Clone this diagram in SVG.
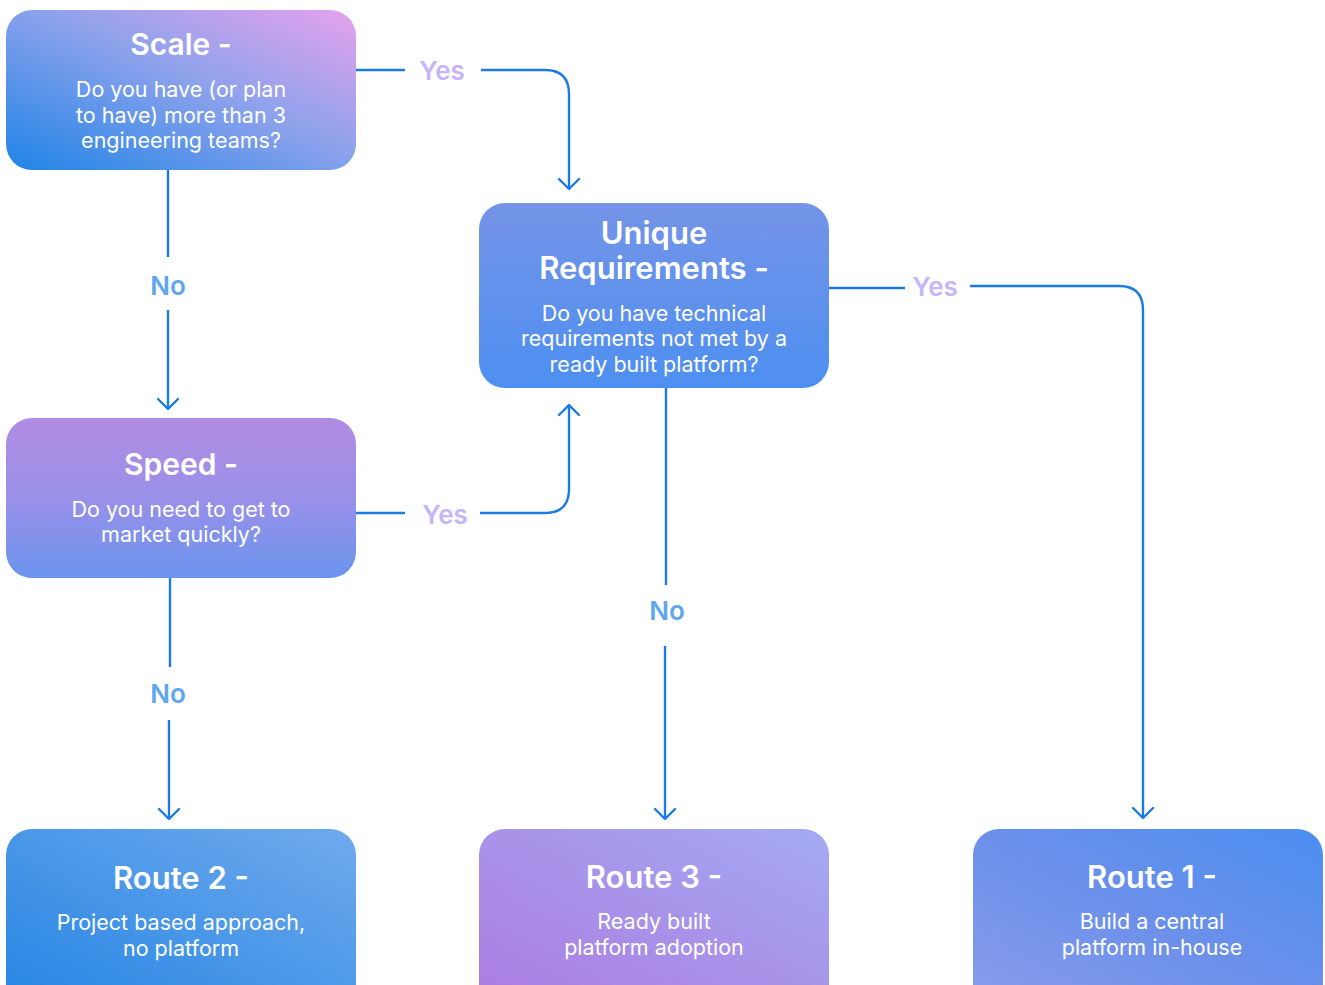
<svg xmlns="http://www.w3.org/2000/svg" width="1325" height="985" viewBox="0 0 1325 985">
<defs>
<linearGradient id="gScale" x1="0" y1="1" x2="1" y2="0">
<stop offset="0" stop-color="#1f84e6"/><stop offset="0.55" stop-color="#8ea2ec"/><stop offset="1" stop-color="#e6a2ec"/>
</linearGradient>
<linearGradient id="gUnique" x1="0" y1="0" x2="0" y2="1">
<stop offset="0" stop-color="#7594e8"/><stop offset="1" stop-color="#4d8ff0"/>
</linearGradient>
<linearGradient id="gSpeed" x1="0" y1="0" x2="0" y2="1">
<stop offset="0" stop-color="#b18ce3"/><stop offset="0.5" stop-color="#9a90e8"/><stop offset="1" stop-color="#6a94ee"/>
</linearGradient>
<linearGradient id="gR2" x1="0" y1="1" x2="1" y2="0">
<stop offset="0" stop-color="#2484e2"/><stop offset="1" stop-color="#70aaee"/>
</linearGradient>
<linearGradient id="gR3" x1="0" y1="1" x2="1" y2="0">
<stop offset="0" stop-color="#ac7ae0"/><stop offset="1" stop-color="#a4aaf2"/>
</linearGradient>
<linearGradient id="gR1" x1="0" y1="1" x2="1" y2="0">
<stop offset="0" stop-color="#8a9cee"/><stop offset="0.5" stop-color="#6c90ea"/><stop offset="1" stop-color="#4a8ef0"/>
</linearGradient>
<marker id="arr" viewBox="-12 -12 24 24" markerWidth="24" markerHeight="24" refX="0" refY="0" orient="auto" markerUnits="userSpaceOnUse">
<path d="M-10,-10 L0,0 L-10,10" fill="none" stroke="#1a7be6" stroke-width="2.4" stroke-linecap="round" stroke-linejoin="round"/>
</marker>
</defs>
<style>
.t{font-family:Inter,"Noto Sans","Liberation Sans",sans-serif;fill:#fff;text-anchor:middle}
.h{font-size:30px;font-weight:600}
.h2{font-size:31px;font-weight:600}
.hr{font-size:31px;font-weight:600}
.b{font-size:21.5px;font-weight:400}
.c{fill:none;stroke:#1a7be6;stroke-width:2.4}
.yes{font-family:Inter,"Noto Sans","Liberation Sans",sans-serif;font-size:26px;font-weight:600;fill:#c4b6f8;text-anchor:middle}
.no{font-family:Inter,"Noto Sans","Liberation Sans",sans-serif;font-size:26px;font-weight:600;fill:#5ea6f0;text-anchor:middle}
</style>
<g id="connectors">
<path class="c" d="M356,70 H405"/>
<path class="c" d="M481,70 H545 Q569,70 569,94 V189" marker-end="url(#arr)"/>
<text class="yes" x="442" y="80">Yes</text>
<path class="c" d="M168,170 V257"/>
<path class="c" d="M168,310 V409" marker-end="url(#arr)"/>
<text class="no" x="168" y="295">No</text>
<path class="c" d="M356,513 H405"/>
<path class="c" d="M480,513 H545 Q569,513 569,489 V405" marker-end="url(#arr)"/>
<text class="yes" x="445" y="524">Yes</text>
<path class="c" d="M170,578 V667"/>
<path class="c" d="M169,720 V819" marker-end="url(#arr)"/>
<text class="no" x="168" y="703">No</text>
<path class="c" d="M829,288 H905"/>
<path class="c" d="M970,286 H1119 Q1143,286 1143,310 V818" marker-end="url(#arr)"/>
<text class="yes" x="935" y="296">Yes</text>
<path class="c" d="M666,388 V585"/>
<path class="c" d="M665,646 V819" marker-end="url(#arr)"/>
<text class="no" x="667" y="620">No</text>
</g>
<g id="scale">
<rect x="6" y="10" width="350" height="160" rx="26" fill="url(#gScale)"/>
<text class="t h" x="181" y="55">Scale -</text>
<text class="t b" x="181" y="97">Do you have (or plan</text>
<text class="t b" x="181" y="123">to have) more than 3</text>
<text class="t b" x="181" y="148">engineering teams?</text>
</g>
<g id="unique">
<rect x="479" y="203" width="350" height="185" rx="26" fill="url(#gUnique)"/>
<text class="t h2" x="654" y="244">Unique</text>
<text class="t h2" x="654" y="279">Requirements -</text>
<text class="t b" x="654" y="321">Do you have technical</text>
<text class="t b" x="654" y="346">requirements not met by a</text>
<text class="t b" x="654" y="372">ready built platform?</text>
</g>
<g id="speed">
<rect x="6" y="418" width="350" height="160" rx="26" fill="url(#gSpeed)"/>
<text class="t h" x="181" y="475">Speed -</text>
<text class="t b" x="181" y="517">Do you need to get to</text>
<text class="t b" x="181" y="542">market quickly?</text>
</g>
<g id="route2">
<rect x="6" y="829" width="350" height="186" rx="26" fill="url(#gR2)"/>
<text class="t hr" x="181" y="889">Route 2 -</text>
<text class="t b" x="181" y="930">Project based approach,</text>
<text class="t b" x="181" y="956">no platform</text>
</g>
<g id="route3">
<rect x="479" y="829" width="350" height="186" rx="26" fill="url(#gR3)"/>
<text class="t hr" x="654" y="888">Route 3 -</text>
<text class="t b" x="654" y="929">Ready built</text>
<text class="t b" x="654" y="955">platform adoption</text>
</g>
<g id="route1">
<rect x="973" y="829" width="350" height="186" rx="26" fill="url(#gR1)"/>
<text class="t hr" x="1152" y="888">Route 1 -</text>
<text class="t b" x="1152" y="929">Build a central</text>
<text class="t b" x="1152" y="955">platform in-house</text>
</g>
</svg>
